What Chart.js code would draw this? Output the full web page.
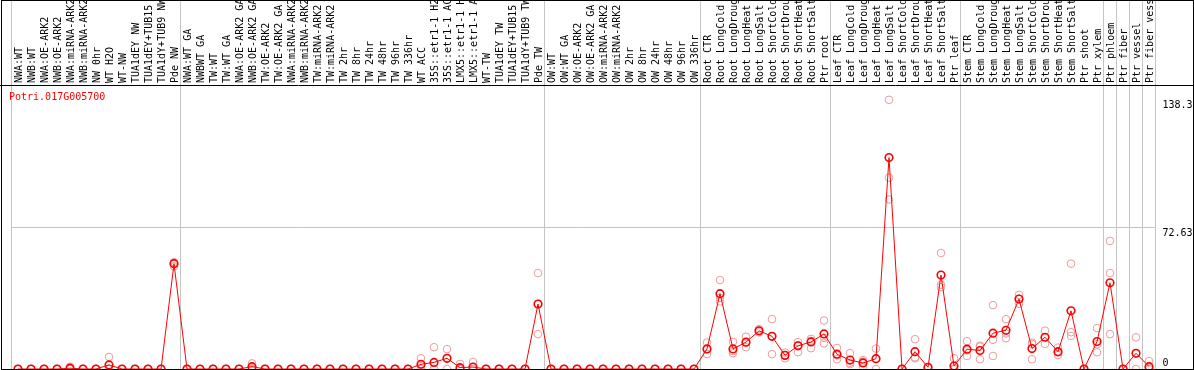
<!DOCTYPE html>
<html>
<head>
<meta charset="utf-8">
<title>Potri.017G005700</title>
<script src="https://cdn.jsdelivr.net/npm/chart.js@4.4.0/dist/chart.umd.min.js"></script>
<style>
  html, body { margin: 0; padding: 0; background: #fff; }
  canvas { display: block; }
</style>
</head>
<body>
<canvas id="expr" width="1194" height="370"></canvas>
<script>
const geneId = "Potri.017G005700";

const samples = [
    "NWA:WT", "NWB:WT", "NWA:OE-ARK2", "NWB:OE-ARK2", "NWA:miRNA-ARK2", "NWB:miRNA-ARK2",
    "NW 0hr", "WT H2O", "WT-NW", "TUA1dEY NW", "TUA1dEY+TUB15 NW", "TUA1dY+TUB9 NW", "Pde NW",
    "NWA:WT GA", "NWBWT GA", "TW:WT", "TW:WT GA", "NWA:OE-ARK2 GA", "NWB:OE-ARK2 GA",
    "TW:OE-ARK2", "TW:OE-ARK2 GA", "NWA:miRNA-ARK2", "NWB:miRNA-ARK2", "TW:miRNA-ARK2", "TW:miRNA-ARK2",
    "TW 2hr", "TW 8hr", "TW 24hr", "TW 48hr", "TW 96hr", "TW 336hr", "WT ACC",
    "35S::etr1-1 H2O", "35S::etr1-1 ACC", "LMX5::etr1-1 H2O", "LMX5::etr1-1 ACC", "WT-TW",
    "TUA1dEY TW", "TUA1dEY+TUB15 TW", "TUA1dY+TUB9 TW", "Pde TW",
    "OW:WT", "OW:WT GA", "OW:OE-ARK2", "OW:OE-ARK2 GA", "OW:miRNA-ARK2", "OW:miRNA-ARK2",
    "OW 2hr", "OW 8hr", "OW 24hr", "OW 48hr", "OW 96hr", "OW 336hr",
    "Root CTR", "Root LongCold", "Root LongDrought", "Root LongHeat", "Root LongSalt",
    "Root ShortCold", "Root ShortDrought", "Root ShortHeat", "Root ShortSalt", "Ptr root",
    "Leaf CTR", "Leaf LongCold", "Leaf LongDrought", "Leaf LongHeat", "Leaf LongSalt",
    "Leaf ShortCold", "Leaf ShortDrought", "Leaf ShortHeat", "Leaf ShortSalt", "Ptr leaf",
    "Stem CTR", "Stem LongCold", "Stem LongDrought", "Stem LongHeat", "Stem LongSalt",
    "Stem ShortCold", "Stem ShortDrought", "Stem ShortHeat", "Stem ShortSalt", "Ptr shoot", "Ptr xylem",
    "Ptr phloem", "Ptr fiber", "Ptr vessel", "Ptr fiber vessel"
];

// first sample index of every group (88 = end)
const groupStarts = [0, 13, 41, 53, 63, 73, 84, 85, 86, 87, 88];

const meanExpr = [
    0, 0, 0, 0, 0.4, 0, 0, 2.1, 0, 0, 0, 0, 54.1,
    0, 0, 0, 0, 0, 1.2, 0, 0, 0, 0, 0, 0, 0, 0, 0, 0, 0, 0, 2.4, 3.4, 5.5, 0.7, 1.0, 0, 0, 0, 0, 33.4,
    0, 0, 0, 0, 0, 0, 0, 0, 0, 0, 0, 0,
    10.3, 38.7, 10.3, 13.8, 19.6, 16.8, 7.0, 11.9, 13.9, 18.0,
    7.6, 4.6, 3.1, 5.3, 108.6, 0, 8.9, 0.9, 48.3, 1.5,
    10.2, 9.5, 18.4, 19.9, 35.9, 10.5, 16.3, 8.9, 29.9, 0, 14.1,
    44.3, 0, 8.1, 1.2
];

const repA = [
    0, 0, 0, 0, 1.2, 0, 0, 6.2, 0, 0, 0, 0, 54.8,
    0, 0, 0, 0, 0, 2.9, 0, 0, 0, 0, 0, 0, 0, 0, 0, 0, 0, 0, 5.5, 11.2, 10.2, 2.6, 3.6, 0, 0, 0, 0, 49.3,
    0, 0, 0, 0, 0, 0, 0, 0, 0, 0, 0, 0,
    13.6, 45.7, 13.9, 16.6, 20.5, 25.6, 8.4, 13.8, 15.5, 24.9,
    10.8, 8.1, 4.6, 10.5, 138.3, 0, 15.3, 0.9, 59.6, 5.5,
    14.3, 11.5, 32.8, 25.6, 38.1, 12.9, 19.7, 11.0, 54.1, 0, 21.0,
    65.8, 0, 16.3, 4.1
];

const repB = [
    0, 0, 0, 0, 0, 0, 0, 0, 0, 0, 0, 0, 52.7,
    0, 0, 0, 0, 0, 0.5, 0, 0, 0, 0, 0, 0, 0, 0, 0, 0, 0, 0, 1.5, 0, 5.5, 0, 0, 0, 0, 0, 0, 17.9,
    0, 0, 0, 0, 0, 0, 0, 0, 0, 0, 0, 0,
    7.7, 34.7, 8.1, 11.2, 18.8, 7.6, 5.5, 8.6, 10.7, 13.2,
    5.0, 3.2, 0.9, 0, 98.3, 0, 5.5, 0.9, 43.3, 0,
    6.7, 5.0, 15.0, 15.8, 33.5, 5.0, 12.9, 7.2, 18.9, 0, 8.6,
    49.3, 0, 0, 0
];

const repC = [
    0, 0, 0, 0, 0, 0, 0, 0, 0, 0, 0, 0, 54.8,
    0, 0, 0, 0, 0, 0, 0, 0, 0, 0, 0, 0, 0, 0, 0, 0, 0, 0, 0, 0, 0, 0, 0, 0, 0, 0, 0, 33.4,
    0, 0, 0, 0, 0, 0, 0, 0, 0, 0, 0, 0,
    10.3, 36.5, 9.2, 13.8, 19.6, 16.8, 7.0, 12.2, 14.5, 16.0,
    7.0, 2.5, 3.8, 5.3, 87.1, 0, 6.0, 0.9, 42.0, 0,
    9.6, 12.0, 6.7, 18.3, 36.1, 13.6, 16.3, 8.5, 17.0, 0, 12.7,
    17.9, 0, 8.0, 0
];

const yTicks = [0, 72.63, 138.3];
const yMax = 145.9;

const monoFont = { family: "'DejaVu Sans Mono', monospace", size: 10 };
const gridGray = "#c4c4c4";
const none = "rgba(0,0,0,0)";

const frame = {
    id: "frame",
    afterDraw(chart) {
        const ctx = chart.ctx;
        const area = chart.chartArea;
        ctx.save();
        ctx.fillStyle = "#ff0000";
        ctx.font = "10px 'DejaVu Sans Mono', monospace";
        ctx.textBaseline = "middle";
        ctx.fillText(geneId, 9, area.top + 12);

        ctx.strokeStyle = "#000";
        ctx.lineWidth = 1;
        ctx.strokeRect(1.5, 0.5, chart.width - 2, area.bottom);
        ctx.beginPath();
        ctx.moveTo(0, area.top + 0.5);
        ctx.lineTo(chart.width, area.top + 0.5);
        ctx.stroke();
        ctx.restore();
    }
};

const repDataset = (data) => ({
    data: data,
    showLine: false,
    pointStyle: "circle",
    pointRadius: 3.8,
    pointBorderWidth: 1,
    pointBorderColor: "#eb9b9b",
    pointBackgroundColor: none,
    pointHoverRadius: 3.8
});

new Chart(document.getElementById("expr"), {
    type: "line",
    data: {
        labels: samples,
        datasets: [
            {
                data: meanExpr,
                borderColor: "#ff0000",
                borderWidth: 1,
                tension: 0,
                pointStyle: "circle",
                pointRadius: 3.8,
                pointBorderWidth: 1.6,
                pointBorderColor: "#ff0000",
                pointBackgroundColor: none,
                pointHoverRadius: 3.8
            },
            repDataset(repA),
            repDataset(repB),
            repDataset(repC)
        ]
    },
    options: {
        responsive: false,
        animation: false,
        events: [],
        layout: { autoPadding: false, padding: { left: 11.5, right: 0, top: 0, bottom: 1 } },
        plugins: {
            legend: { display: false },
            title: { display: false },
            tooltip: { enabled: false }
        },
        scales: {
            x: {
                type: "category",
                position: "top",
                offset: true,
                border: { display: false },
                grid: {
                    offset: true,
                    drawTicks: true,
                    tickLength: 85,
                    lineWidth: 1,
                    color: (c) => (c.index === undefined || groupStarts.includes(c.index)) ? gridGray : none
                },
                ticks: {
                    autoSkip: false,
                    minRotation: 90,
                    maxRotation: 90,
                    padding: -83,
                    labelOffset: 13,
                    color: "#000",
                    font: monoFont
                },
                afterFit: (s) => {
                    s.height = 85;
                    s.paddingLeft = 0;
                    s.paddingRight = 0;
                }
            },
            y: {
                position: "right",
                min: 0,
                max: yMax,
                border: { display: false },
                grid: {
                    drawTicks: false,
                    color: (c) => (c.tick && c.tick.value === 72.63) ? gridGray : none
                },
                afterBuildTicks: (s) => { s.ticks = yTicks.map(v => ({ value: v })); },
                ticks: {
                    padding: 7,
                    labelOffset: 6,
                    color: "#000",
                    font: monoFont,
                    callback: (v) => v === 0 ? ["0", "", ""] : String(v)
                },
                afterFit: (s) => {
                    s.width = 38.5;
                    s.paddingTop = 0;
                    s.paddingBottom = 0;
                }
            }
        }
    },
    plugins: [frame]
});
</script>
</body>
</html>
